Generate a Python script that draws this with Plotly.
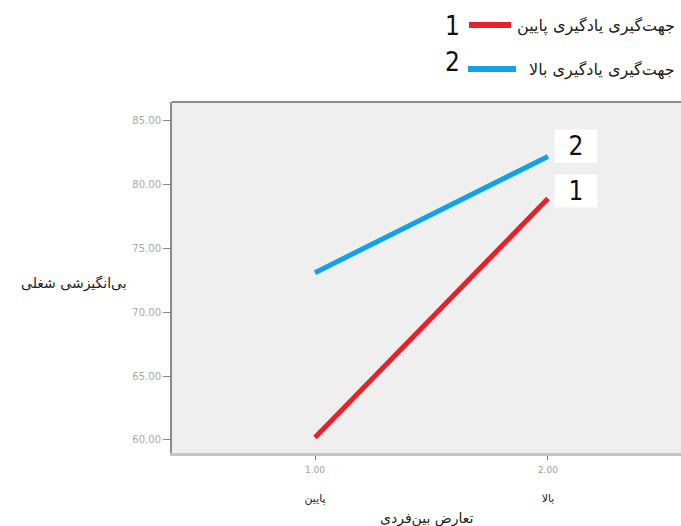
import plotly.graph_objects as go

# Interaction plot: job amotivation by interpersonal conflict and learning orientation
x_vals = [1.0, 2.0]
x_tick_values = ["1.00", "2.00"]
x_tick_names = ["پایین", "بالا"]
y_tick_vals = [60, 65, 70, 75, 80, 85]
y_tick_text = ["60.00", "65.00", "70.00", "75.00", "80.00", "85.00"]

series_names = ["جهت‌گیری یادگیری پایین", "جهت‌گیری یادگیری بالا"]
series_ids = ["1", "2"]
low_orientation = [60.2, 78.9]
high_orientation = [73.1, 82.2]
series_values = [low_orientation, high_orientation]
series_colors = ["#e8202a", "#0fa3e6"]

x_title = "تعارض بین‌فردی"
y_title = "بی‌انگیزشی شغلی"

AR_FONT = "DejaVu Sans"
NUM_FONT = "DejaVu Sans Condensed, Liberation Sans, sans-serif"

W, H = 681, 526
ML, MR, MT, MB = 172, 0, 102, 73
PW, PH = W - ML - MR, H - MT - MB


def px_to_paper(xp, yp):
    return (xp - ML) / PW, (H - MB - yp) / PH


fig = go.Figure()
for name, vals, color in zip(series_names, series_values, series_colors):
    fig.add_trace(go.Scatter(
        x=x_vals, y=vals, mode="lines", name=name,
        line=dict(color=color, width=5),
        showlegend=False,
    ))

tick_text = [
    f"<span style='color:#a0a0a0;font-size:9px'>{v}</span><br><br>{n}"
    for v, n in zip(x_tick_values, x_tick_names)
]

fig.update_layout(
    width=W, height=H,
    margin=dict(l=ML, r=MR, t=MT, b=MB, autoexpand=False),
    paper_bgcolor="white",
    plot_bgcolor="#efefef",
    showlegend=False,
    font=dict(family=AR_FONT, color="#222"),
    xaxis=dict(
        range=[0.386, 2.571],
        tickvals=x_vals, ticktext=tick_text,
        tickfont=dict(family=AR_FONT, size=11, color="#222"),
        showgrid=False, zeroline=False,
        showline=True, linecolor="#c4c4c4", linewidth=3,
        ticks="outside", ticklen=4, tickcolor="#777", tickwidth=1,
    ),
    yaxis=dict(
        range=[58.98, 86.46],
        tickvals=y_tick_vals, ticktext=y_tick_text,
        tickfont=dict(family="DejaVu Sans", size=10, color="#a8a8a8"),
        showgrid=False, zeroline=False,
        showline=True, linecolor="#8a8a8a", linewidth=2,
        ticks="outside", ticklen=7, tickcolor="#8a8a8a", tickwidth=1,
    ),
)

# top frame edge
fig.add_shape(type="line", xref="paper", yref="paper", x0=0, x1=1, y0=1, y1=1,
              line=dict(color="#8a8a8a", width=2))

# axis titles
tx, ty = px_to_paper(427, 518)
fig.add_annotation(text=x_title, xref="paper", yref="paper", x=tx, y=ty,
                   xanchor="center", yanchor="middle", showarrow=False,
                   font=dict(family=AR_FONT, size=14, color="#222"))
tx, ty = px_to_paper(129, 283)
fig.add_annotation(text=y_title, xref="paper", yref="paper", x=tx, y=ty,
                   xanchor="right", yanchor="middle", showarrow=False,
                   font=dict(family=AR_FONT, size=14, color="#222"))

# series identifiers at line ends
label_y = [79.5, 83.0]
for sid, ly in zip(series_ids, label_y):
    fig.add_annotation(text=sid, x=2.12, y=ly, xref="x", yref="y",
                       showarrow=False, bgcolor="white", borderpad=4,
                       width=34, height=24,
                       font=dict(family=NUM_FONT, size=26, color="#111"))

# legend keys drawn in the top margin
legend_rows = [
    # line y, line x0, line x1, text x, number y
    (25, 469, 511, 515, 26),
    (69, 468, 516, 527, 62),
]
for (ly, lx0, lx1, txp, ny), name, color, sid in zip(
        legend_rows, series_names, series_colors, series_ids):
    x0, yl = px_to_paper(lx0, ly)
    x1, _ = px_to_paper(lx1, ly)
    fig.add_shape(type="line", xref="paper", yref="paper",
                  x0=x0, x1=x1, y0=yl, y1=yl,
                  line=dict(color=color, width=6))
    nx, nyp = px_to_paper(452, ny)
    fig.add_annotation(text=sid, xref="paper", yref="paper", x=nx, y=nyp,
                       xanchor="center", yanchor="middle", showarrow=False,
                       font=dict(family=NUM_FONT, size=26, color="#111"))
    tpx, tpy = px_to_paper(txp, ly + 1)
    fig.add_annotation(text=name, xref="paper", yref="paper", x=tpx, y=tpy,
                       xanchor="left", yanchor="middle", showarrow=False,
                       font=dict(family=AR_FONT, size=16, color="#222"))

fig.write_html("out.html")
